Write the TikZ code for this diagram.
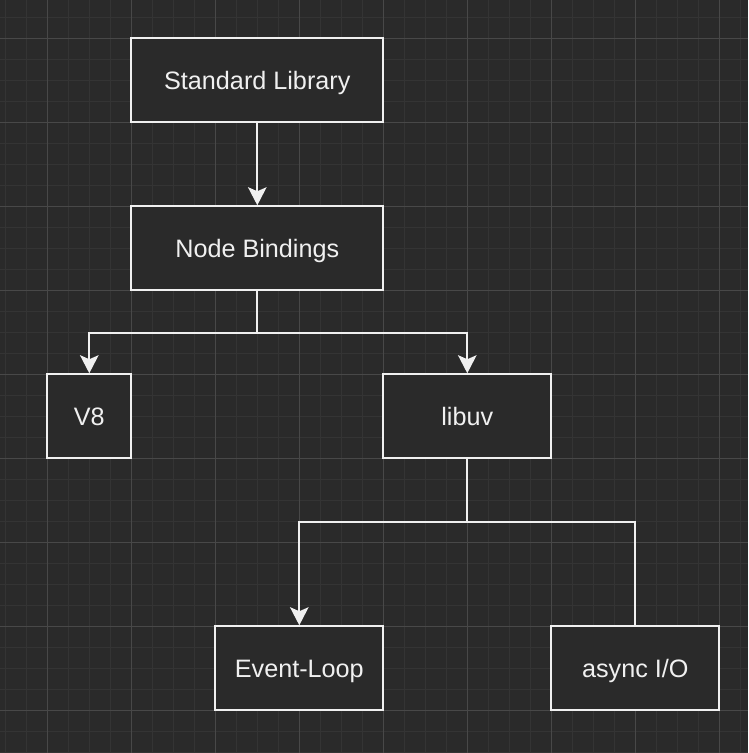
\documentclass[tikz,border=0pt]{standalone}
\usepackage{fontspec}
\setmainfont{Liberation Sans}
\usetikzlibrary{arrows.meta}

\definecolor{bgcol}{RGB}{42,42,42}
\definecolor{minorcol}{RGB}{52,52,52}
\definecolor{majorcol}{RGB}{72,72,72}
\definecolor{inkcol}{RGB}{240,240,240}

\begin{document}
\begin{tikzpicture}[x=1pt,y=-1pt]
        \tikzstyle{box}=[rectangle, draw=inkcol, fill=bgcol, line width=2.1pt, minimum height=84pt, inner sep=0pt, text=inkcol, font=\fontsize{25.2}{30}\selectfont, text height=18pt, text depth=0pt]
        \tikzstyle{link}=[draw=inkcol, line width=2.1pt]
        \tikzstyle{arr}=[link, -{Stealth[length=18pt, width=18.5pt, inset=4pt]}]

        % background and grid
        \fill[bgcol] (0,0) rectangle (748,753);
        \useasboundingbox (0,0) rectangle (748,753);
        \foreach \i in {0,...,35} {
            \draw[minorcol, line width=1pt] (5.3+21*\i,0) -- (5.3+21*\i,753);
            \draw[minorcol, line width=1pt] (0,17.3+21*\i) -- (748,17.3+21*\i);
        }
        \foreach \i in {0,...,8} {
            \draw[majorcol, line width=1pt] (47.3+84*\i,0) -- (47.3+84*\i,753);
            \draw[majorcol, line width=1pt] (0,38.3+84*\i) -- (748,38.3+84*\i);
        }

        \node[box, minimum width=252pt] (std)  at (257.3,80.3)  {Standard Library};
        \node[box, minimum width=252pt] (bind) at (257.3,248.3) {Node Bindings};
        \node[box, minimum width=84pt]  (veight) at (89.3,416.3) {V8};
        \node[box, minimum width=168pt] (uv)   at (467.3,416.3) {libuv};
        \node[box, minimum width=168pt] (loop) at (299.3,668.3) {Event-Loop};
        \node[box, minimum width=168pt] (aio)  at (635.3,668.3) {async I/O};

        \draw[arr] (std) -- (bind);
        \draw[arr] (bind.south) -- ++(0,42) -| (veight.north);
        \draw[arr] (bind.south) -- ++(0,42) -| (uv.north);
        \draw[arr] (uv.south) -- ++(0,62.3) -| (loop.north);
        \draw[link] (uv.south) -- ++(0,62.3) -| (aio.north);
    \end{tikzpicture}
\end{document}
